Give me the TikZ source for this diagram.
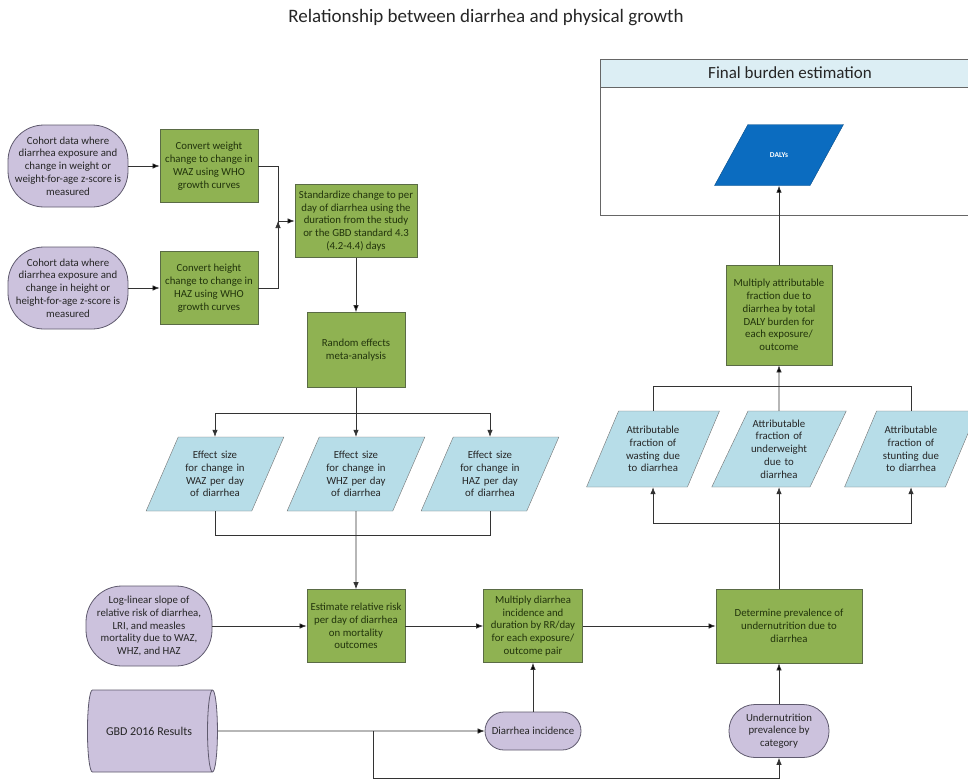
\documentclass[tikz,border=0pt]{standalone}
\usepackage{fontspec}
\setmainfont{Carlito}
\usetikzlibrary{positioning, arrows.meta, shapes.geometric}
\definecolor{procgreen}{HTML}{8FB252}
\definecolor{procline}{HTML}{5A6B45}
\definecolor{srcpurple}{HTML}{CCC2DD}
\definecolor{srcline}{HTML}{5F5A6E}
\definecolor{parablue}{HTML}{B7DDE8}
\definecolor{dalyblue}{HTML}{0B6CC0}
\definecolor{hdrblue}{HTML}{DCEEF4}
\definecolor{txtgreen}{HTML}{22340C}

\begin{document}
\begin{tikzpicture}[x=1pt,y=-1pt,on grid,>={Latex[length=7pt,width=5.5pt]},
  font=\fontsize{10.8}{12.8}\selectfont,
  every node/.style={align=center,inner sep=2pt},
  proc/.style={rectangle,draw=procline,fill=procgreen,text=txtgreen,line width=0.8pt,
    minimum width=98pt,minimum height=73pt},
  source/.style={rectangle,rounded corners=36pt,draw=srcline,fill=srcpurple,text=black!85,line width=0.8pt},
  para/.style={trapezium,trapezium left angle=60,trapezium right angle=120,trapezium stretches=true,
    draw=black!55,fill=parablue,text=black!85,text width=62pt,minimum width=138pt,minimum height=74pt},
  line/.style={draw=black!80,line width=0.7pt}]
  \useasboundingbox[fill=white] (0,0) rectangle (968,781);

  \node[font=\fontsize{19}{22}\selectfont,text=black!85] (title) at (486,18) {Relationship between diarrhea and physical growth};

  \node[draw=black!60,line width=0.8pt,minimum width=380pt,minimum height=156pt] (frame) at (790,137) {};
  \node[draw=black!60,line width=0.8pt,fill=hdrblue,minimum width=380pt,minimum height=28pt,
    font=\fontsize{17}{19}\selectfont,text=black!85] (final) at (790,73) {Final burden estimation};

  \node[proc] (convW) at (209,166) {Convert weight\\change to change in\\WAZ using WHO\\growth curves};
  \node[proc] (convH) [below=122pt of convW] {Convert height\\change to change in\\HAZ using WHO\\growth curves};
  \node[source,minimum width=120pt,minimum height=82pt] (cohW) [left=141pt of convW] {Cohort data where\\diarrhea exposure and\\change in weight or\\weight-for-age z-score is\\measured};
  \node[source,minimum width=120pt,minimum height=82pt] (cohH) [left=141pt of convH] {Cohort data where\\diarrhea exposure and\\change in height or\\height-for-age z-score is\\measured};
  \node[proc,minimum width=122pt] (std) at (356,221) {Standardize change to per\\day of diarrhea using the\\duration from the study\\or the GBD standard 4.3\\(4.2-4.4) days};
  \node[proc,minimum height=75pt] (rand) [below=129pt of std] {Random effects\\meta-analysis};

  \node[para] (esZ) [below=124pt of rand] {Effect size\\for change in\\WHZ per day\\of diarrhea};
  \node[para] (esW) [left=141pt of esZ] {Effect size\\for change in\\WAZ per day\\of diarrhea};
  \node[para] (esH) [right=134pt of esZ] {Effect size\\for change in\\HAZ per day\\of diarrhea};

  \node[proc] (est) [below=152pt of esZ] {Estimate relative risk\\per day of diarrhea\\on mortality\\outcomes};
  \node[source,minimum width=126pt,minimum height=80pt] (logl) [left=207pt of est] {Log-linear slope of\\relative risk of diarrhea,\\LRI, and measles\\mortality due to WAZ,\\WHZ, and HAZ};
  \node[proc,minimum width=99pt] (mult) [right=177pt of est] {Multiply diarrhea\\incidence and\\duration by RR/day\\for each exposure/\\outcome pair};
  \node[proc,minimum width=146pt,minimum height=74pt] (det) [right=256pt of mult] {Determine prevalence of\\undernutrition due to\\diarrhea};

  \node[cylinder,shape border rotate=0,aspect=0.8,draw=srcline,fill=srcpurple,text=black!85,line width=0.8pt,
    minimum width=82pt,minimum height=130pt,font=\fontsize{12}{14}\selectfont] (gbd) [below=105pt of logl] {GBD 2016 Results};
  \node[source,rounded corners=19pt,minimum width=96pt,minimum height=38pt] (dinc) [below=105pt of mult] {Diarrhea incidence};
  \node[source,rounded corners=26pt,minimum width=100pt,minimum height=53pt] (unp) at (779,731) {Undernutrition\\prevalence by\\category};

  \node[para,text width=58pt,minimum width=133pt,minimum height=76pt] (attU) at (779,449) {Attributable\\fraction of\\underweight\\due to\\diarrhea};
  \node[para,text width=58pt,minimum width=133pt,minimum height=76pt] (attW) [left=126pt of attU] {Attributable\\fraction of\\wasting due\\to diarrhea};
  \node[para,text width=58pt,minimum width=133pt,minimum height=76pt] (attS) [right=132pt of attU] {Attributable\\fraction of\\stunting due\\to diarrhea};
  \node[proc,minimum width=106pt,minimum height=100pt] (multA) [above=134pt of attU] {Multiply attributable\\fraction due to\\diarrhea by total\\DALY burden for\\each exposure/\\outcome};
  \node[para,fill=dalyblue,draw=dalyblue!70!black,text=white,text width=55pt,inner ysep=25pt,
    minimum width=129pt,minimum height=61pt,font=\bfseries\fontsize{7.5}{9}\selectfont] (dalys) [above=160pt of multA] {DALYs};

  \coordinate (jn) at (278,221);
  \coordinate (tb) at (356,413);
  \coordinate (bb) at (356,535);
  \coordinate (br) at (373,731);
  \coordinate (bc) at (373,778);
  \coordinate (at) at (779,386);
  \coordinate (ab) at (779,523);

  \path[line,->]
    (cohW) edge (convW)
    (cohH) edge (convH)
    (jn) edge (std)
    (std) edge (rand)
    (logl) edge (est)
    (est) edge (mult)
    (mult) edge (det)
    (gbd) edge (dinc)
    (dinc) edge (mult)
    (unp) edge (unp |- det.south)
    (attU) edge (multA)
    (multA) edge (dalys);
  \draw[line] (convW) -| (jn) (convH) -| (jn);
  \draw[line] (rand) -- (tb);
  \draw[line,->] (tb) -| (esW);
  \draw[line,->] (tb) -| (esH);
  \draw[line,->] (tb) -- (esZ);
  \draw[line] (esW) |- (bb) (esH) |- (bb);
  \draw[line,->] (esZ) -- (est);
  \draw[line,->] (br) -- (bc) -| (unp);
  \draw[line] (det.north -| attU) -- (ab);
  \draw[line,->] (ab) -| (attW);
  \draw[line,->] (ab) -| (attS);
  \draw[line,->] (ab) -- (attU);
  \draw[line] (attW) |- (at) (attS) |- (at);
\end{tikzpicture}
\end{document}
